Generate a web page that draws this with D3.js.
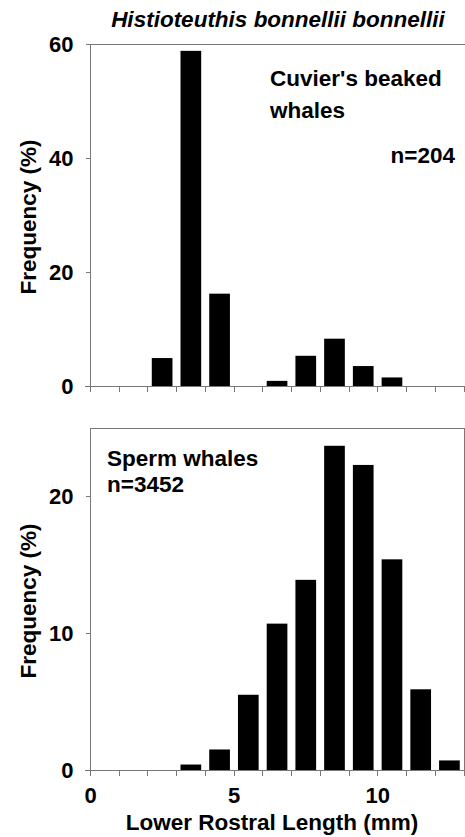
<html lang="en">
<head>
<meta charset="utf-8">
<title>Histioteuthis bonnellii bonnellii</title>
<style>
  body { margin: 0; background: #fff; }
  text { font-family: "Liberation Sans", Arial, sans-serif; font-weight: bold; fill: #000; }
  .axis path, .axis line { stroke: #777; shape-rendering: crispEdges; }
  .axis text { font-size: 22px; }
  .frame { fill: none; stroke: #777; shape-rendering: crispEdges; }
  .lbl { font-size: 22.5px; }
</style>
<script src="https://cdnjs.cloudflare.com/ajax/libs/d3/7.8.5/d3.min.js"></script>
</head>
<body>
<svg id="chart" width="465" height="837"></svg>
<script>
// bins are 1 mm wide, starting at these lengths
var binStarts = [0, 1, 2, 3, 4, 5, 6, 7, 8, 9, 10, 11, 12];
// frequency (%) per bin
var cuvierPct = [0, 0, 4.9, 58.8, 16.2, 0, 0.9, 5.3, 8.3, 3.5, 1.5, 0, 0];
var spermPct  = [0, 0, 0, 0.4, 1.5, 5.5, 10.7, 13.9, 23.7, 22.3, 15.4, 5.9, 0.7];
var xTicks = [0, 1, 2, 3, 4, 5, 6, 7, 8, 9, 10, 11, 12, 13];
var xLabels = [0, 5, 10];
var cuvierTicks = [0, 20, 40, 60];
var spermTicks = [0, 10, 20];

var svg = d3.select("#chart");

var x = d3.scaleLinear().domain([0, 13]).range([90, 463.5]);

// title
svg.append("text")
    .attr("class", "lbl")
    .attr("x", 278).attr("y", 27)
    .attr("text-anchor", "middle")
    .style("font-style", "italic")
    .text("Histioteuthis bonnellii bonnellii");

function panel(values, yMax, yTicks, top, bottom, opts) {
  var y = d3.scaleLinear().domain([0, yMax]).range([bottom, top]);
  var g = svg.append("g");

  // frame lines
  if (opts.fullFrame) {
    g.append("rect").attr("class", "frame")
      .attr("x", x(0) + 0.5).attr("y", top + 0.5)
      .attr("width", x(13) - x(0)).attr("height", bottom - top);
  } else {
    g.append("line").attr("class", "frame")
      .attr("x1", x(0)).attr("x2", 465).attr("y1", top + 0.5).attr("y2", top + 0.5);
  }

  // bars
  g.selectAll(".bar")
    .data(binStarts.map(function(b, i) { return {b: b, v: values[i]}; }).filter(function(d) { return d.v > 0; }))
    .enter().append("rect")
      .attr("class", "bar")
      .attr("x", function(d) { return x(d.b + 0.15); })
      .attr("width", function(d) { return x(d.b + 0.87) - x(d.b + 0.15); })
      .attr("y", function(d) { return y(d.v); })
      .attr("height", function(d) { return y(0) - y(d.v); })
      .attr("fill", "#000");

  var yAxis = d3.axisLeft(y).tickValues(yTicks).tickSize(5).tickPadding(12).tickSizeOuter(0);
  g.append("g").attr("class", "axis")
    .attr("transform", "translate(" + (x(0) + 0.5) + ",0)")
    .call(yAxis);

  var xAxis = d3.axisBottom(x).tickValues(xTicks).tickSize(5).tickPadding(12).tickSizeOuter(0)
    .tickFormat(function(d) { return opts.xLabels && xLabels.indexOf(d) >= 0 ? d : ""; });
  g.append("g").attr("class", "axis")
    .attr("transform", "translate(0," + (bottom + 0.5) + ")")
    .call(xAxis);
  g.selectAll(".axis .domain").attr("d", null);
  g.append("line").attr("class", "frame")
    .attr("x1", x(0) - 5).attr("x2", opts.fullFrame ? x(13) : 465)
    .attr("y1", bottom + 0.5).attr("y2", bottom + 0.5);
  g.append("line").attr("class", "frame")
    .attr("x1", x(0) + 0.5).attr("x2", x(0) + 0.5)
    .attr("y1", top).attr("y2", bottom + 5);

  // y label
  svg.append("text")
    .attr("class", "lbl")
    .attr("transform", "translate(36," + ((top + bottom) / 2 + 2) + ") rotate(-90)")
    .attr("text-anchor", "middle")
    .text("Frequency (%)");
}

panel(cuvierPct, 60, cuvierTicks, 44, 386, {fullFrame: false, xLabels: false});
panel(spermPct, 25, spermTicks, 428, 770, {fullFrame: true, xLabels: true});

// legend notes
svg.append("text").attr("class", "lbl").attr("x", 270).attr("y", 86).text("Cuvier's beaked");
svg.append("text").attr("class", "lbl").attr("x", 270).attr("y", 118).text("whales");
svg.append("text").attr("class", "lbl").attr("x", 455).attr("y", 163).attr("text-anchor", "end").text("n=204");
svg.append("text").attr("class", "lbl").attr("x", 107).attr("y", 466).text("Sperm whales");
svg.append("text").attr("class", "lbl").attr("x", 107).attr("y", 492).text("n=3452");

// x label
svg.append("text")
    .attr("class", "lbl")
    .attr("x", 272).attr("y", 830)
    .attr("text-anchor", "middle")
    .text("Lower Rostral Length (mm)");
</script>
</body>
</html>
